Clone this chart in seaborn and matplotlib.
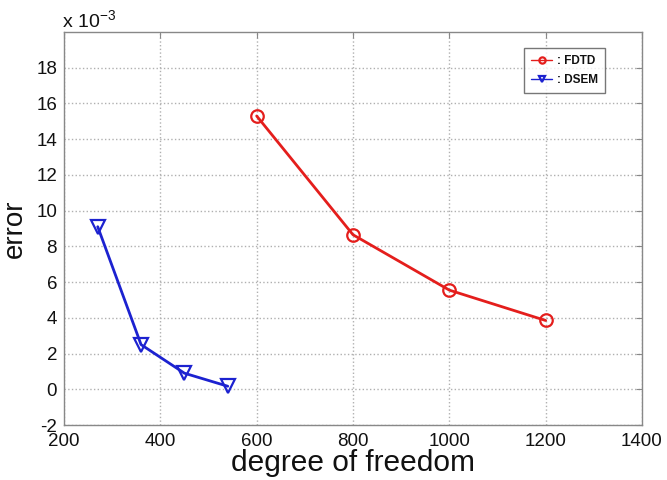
import matplotlib
matplotlib.use("Agg")
import matplotlib.pyplot as plt
import seaborn as sns
import pandas as pd

# Data (error values in units of 1e-3)
fdtd_dof = [600, 800, 1000, 1200]
fdtd_err = [15.3, 8.65, 5.55, 3.85]
dsem_dof = [270, 360, 450, 540]
dsem_err = [9.1, 2.5, 0.9, 0.17]

x_ticks = [200, 400, 600, 800, 1000, 1200, 1400]
y_ticks = [-2, 0, 2, 4, 6, 8, 10, 12, 14, 16, 18]

sns.set_style("white")
plt.rcParams['font.family'] = ['Liberation Sans', 'DejaVu Sans']
plt.rcParams['axes.unicode_minus'] = False
plt.rcParams['mathtext.fontset'] = 'custom'
plt.rcParams['mathtext.rm'] = 'Liberation Sans'
plt.rcParams['mathtext.it'] = 'Liberation Sans'
plt.rcParams['mathtext.default'] = 'regular'
plt.rcParams['text.color'] = '#111111'
plt.rcParams['axes.labelcolor'] = '#111111'
plt.rcParams['xtick.labelcolor'] = '#111111'
plt.rcParams['ytick.labelcolor'] = '#111111'

fig = plt.figure(figsize=(6.67, 4.8), dpi=100)
ax = fig.add_axes([64/667, 1-425/480, (642-64)/667, (425-32)/480])

df_f = pd.DataFrame({"dof": fdtd_dof, "err": fdtd_err})
df_d = pd.DataFrame({"dof": dsem_dof, "err": dsem_err})

red = "#e41e1c"
blue = "#1c22d0"
sns.lineplot(data=df_f, x="dof", y="err", ax=ax, color=red, marker="o",
             markersize=9, markerfacecolor="none", markeredgecolor=red,
             markeredgewidth=1.6, linewidth=2, label=": FDTD")
sns.lineplot(data=df_d, x="dof", y="err", ax=ax, color=blue, marker="v",
             markersize=10, markerfacecolor="none", markeredgecolor=blue,
             markeredgewidth=1.6, linewidth=2, label=": DSEM")

ax.set_xlim(200, 1400)
ax.set_ylim(-2, 20)
ax.set_xticks(x_ticks)
ax.set_yticks(y_ticks)
ax.tick_params(axis="both", labelsize=13.5, direction="in", length=4,
               color="#888888", labelcolor="#111111", top=True, right=True)
ax.tick_params(axis="x", pad=6)
ax.tick_params(axis="y", pad=5)
ax.grid(True, linestyle=":", color="#b0b0b0", linewidth=1)
for s in ax.spines.values():
    s.set_color("#888888")
    s.set_linewidth(1)

ax.set_xlabel("degree of freedom", fontsize=21.5, color="#111111")
ax.xaxis.set_label_coords(0.5, -0.062)
ax.set_ylabel("error", fontsize=20, color="#111111")
ax.yaxis.set_label_coords(-0.063, 0.5)

fig.text(62/667, 1-20/480, r"x 10$^{-3}$", fontsize=14, ha="left", va="center",
         color="#111111")

leg = ax.legend(loc="upper right", bbox_to_anchor=(605/667, 1-48/480),
                bbox_transform=fig.transFigure, fancybox=False,
                prop={"weight": "bold", "size": 8.5}, handlelength=1.8,
                markerscale=0.5, borderpad=0.6, labelspacing=0.6,
                handletextpad=0.4, borderaxespad=0)
leg.get_frame().set_edgecolor("#555555")
leg.get_frame().set_linewidth(1)
for h in leg.get_lines():
    h.set_linewidth(1)
for t in leg.get_texts():
    t.set_color("#111111")

fig.savefig("out.png", dpi=100)
